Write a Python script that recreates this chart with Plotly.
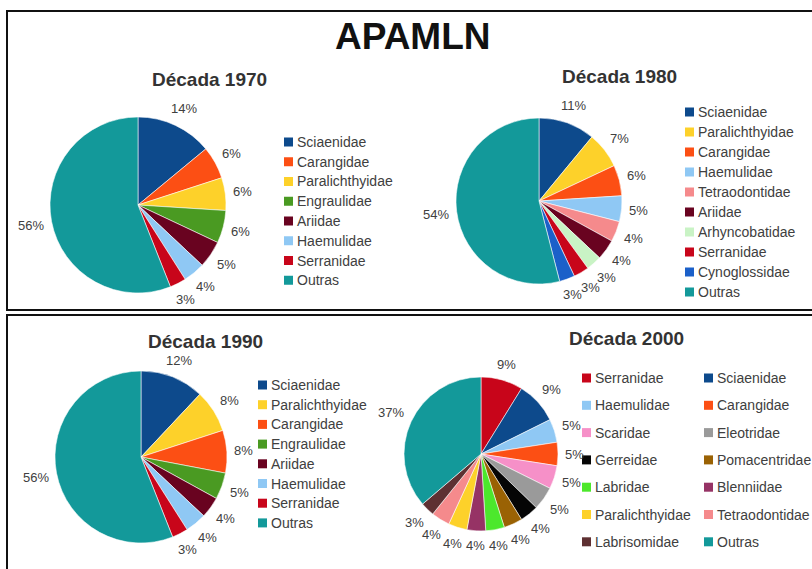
import math
import plotly.graph_objects as go

W, H = 812, 569

# ---------------- data ----------------
main_title = "APAMLN"
decade_titles = ["Década 1970", "Década 1980", "Década 1990", "Década 2000"]

labels_1970 = ["Sciaenidae", "Carangidae", "Paralichthyidae", "Engraulidae",
               "Ariidae", "Haemulidae", "Serranidae", "Outras"]
values_1970 = [14, 6, 6, 6, 5, 4, 3, 56]

labels_1980 = ["Sciaenidae", "Paralichthyidae", "Carangidae", "Haemulidae",
               "Tetraodontidae", "Ariidae", "Arhyncobatidae", "Serranidae",
               "Cynoglossidae", "Outras"]
values_1980 = [11, 7, 6, 5, 4, 4, 3, 3, 3, 54]

labels_1990 = ["Sciaenidae", "Paralichthyidae", "Carangidae", "Engraulidae",
               "Ariidae", "Haemulidae", "Serranidae", "Outras"]
values_1990 = [12, 8, 8, 5, 4, 4, 3, 56]

labels_2000 = ["Serranidae", "Sciaenidae", "Haemulidae", "Carangidae",
               "Scaridae", "Eleotridae", "Gerreidae", "Pomacentridae",
               "Labridae", "Blenniidae", "Paralichthyidae", "Tetraodontidae",
               "Labrisomidae", "Outras"]
values_2000 = [9, 9, 5, 5, 5, 5, 4, 4, 4, 4, 4, 4, 3, 37]

# ---------------- styles ----------------
COLORS = {
    "Sciaenidae": "#0d4a8c",
    "Carangidae": "#fc4f14",
    "Paralichthyidae": "#fdd12a",
    "Engraulidae": "#4a9a22",
    "Ariidae": "#690320",
    "Haemulidae": "#8fc8f4",
    "Serranidae": "#c8051a",
    "Outras": "#13999a",
    "Tetraodontidae": "#f58a8c",
    "Arhyncobatidae": "#c9f3c5",
    "Cynoglossidae": "#1b60c9",
    "Scaridae": "#f690c8",
    "Eleotridae": "#9a9a9a",
    "Gerreidae": "#050505",
    "Pomacentridae": "#9a6204",
    "Labridae": "#4ce82c",
    "Blenniidae": "#963365",
    "Labrisomidae": "#5e3032",
}

FONT = "Liberation Sans, Arial, sans-serif"
TXT = "#404040"
LABEL_SIZE = 13
LABEL_GAP = 7

# pie centre (px), radius (px)
pie_layout = [
    (138, 205, 88),
    (539, 201, 83),
    (141, 457, 86),
    (481, 454, 77),
]
title_pos = [(209, 80), (619, 76), (205, 341), (626, 338)]

legend_layout = [
    dict(cols=[297], y0=142, dy=19.75, per_col=8),
    dict(cols=[698], y0=112, dy=20.0, per_col=10),
    dict(cols=[271], y0=385, dy=19.7, per_col=8),
    dict(cols=[595, 717], y0=378, dy=27.3, per_col=7, rowmajor=True),
]

datasets = [
    (labels_1970, values_1970),
    (labels_1980, values_1980),
    (labels_1990, values_1990),
    (labels_2000, values_2000),
]


def px(x):
    return x / W


def py(y):
    return 1 - y / H


def text_w(s, size):
    # approximate Arial advance widths
    w = 0.0
    for ch in s:
        w += 0.889 if ch == "%" else 0.556
    return w * size


fig = go.Figure()
annotations = []
shapes = []

for i, (labels, values) in enumerate(datasets):
    cx, cy, r = pie_layout[i]
    fig.add_trace(go.Pie(
        labels=labels,
        values=values,
        sort=False,
        direction="clockwise",
        rotation=0,
        marker=dict(colors=[COLORS[l] for l in labels],
                    line=dict(width=0.7, color="rgba(255,255,255,0.8)")),
        textinfo="none",
        domain=dict(x=[px(cx - r), px(cx + r)], y=[py(cy + r), py(cy - r)]),
        showlegend=False,
        hoverinfo="label+value",
    ))

    # outside percentage labels (Excel-style, no leader lines)
    total = float(sum(values))
    cum = 0.0
    for v in values:
        mid = (cum + v / 2.0) / total * 2 * math.pi
        cum += v
        s = "%d%%" % v
        sw, sh = text_w(s, LABEL_SIZE), LABEL_SIZE + 1
        sn, cs = math.sin(mid), math.cos(mid)
        d = r + LABEL_GAP + abs(sn) * sw / 2 + abs(cs) * sh / 2
        lx, ly = cx + d * sn, cy - d * cs
        annotations.append(dict(
            text=s, x=px(lx), y=py(ly), xref="paper", yref="paper",
            xanchor="center", yanchor="middle", showarrow=False, borderpad=0,
            font=dict(size=LABEL_SIZE, color=TXT, family=FONT)))

    tx, ty = title_pos[i]
    annotations.append(dict(
        text="<b>%s</b>" % decade_titles[i], x=px(tx), y=py(ty),
        xref="paper", yref="paper", xanchor="center", yanchor="middle",
        showarrow=False, font=dict(size=19, color="#333333", family=FONT)))

    lg = legend_layout[i]
    ncols = len(lg["cols"])
    for k, lab in enumerate(labels):
        if lg.get("rowmajor"):
            col, row = k % ncols, k // ncols
        else:
            col, row = k // lg["per_col"], k % lg["per_col"]
        tx_ = lg["cols"][col]
        ty_ = lg["y0"] + row * lg["dy"]
        shapes.append(dict(
            type="rect", xref="paper", yref="paper",
            x0=px(tx_ - 13), x1=px(tx_ - 4), y0=py(ty_ + 4.5), y1=py(ty_ - 4.5),
            fillcolor=COLORS[lab], line=dict(width=0)))
        annotations.append(dict(
            text=lab, x=px(tx_ - 1), y=py(ty_), xref="paper", yref="paper",
            xanchor="left", yanchor="middle", showarrow=False, borderpad=0,
            font=dict(size=14, color=TXT, family=FONT)))

# main title
annotations.append(dict(
    text="<b>%s</b>" % main_title, x=px(413), y=py(37), xref="paper", yref="paper",
    xanchor="center", yanchor="middle", showarrow=False,
    font=dict(size=37, color="#111111", family=FONT)))

# panel frames
shapes.append(dict(type="rect", xref="paper", yref="paper",
                   x0=px(7), x1=px(W + 10), y0=py(310), y1=py(11),
                   line=dict(color="#111111", width=2), fillcolor="rgba(0,0,0,0)",
                   layer="below"))
shapes.append(dict(type="rect", xref="paper", yref="paper",
                   x0=px(7), x1=px(W + 10), y0=py(H + 10), y1=py(315),
                   line=dict(color="#111111", width=2), fillcolor="rgba(0,0,0,0)",
                   layer="below"))

fig.update_layout(
    width=W, height=H,
    margin=dict(l=0, r=0, t=0, b=0),
    paper_bgcolor="white", plot_bgcolor="white",
    annotations=annotations, shapes=shapes,
    font=dict(family=FONT, color=TXT),
)

fig.write_html(
    "out.html",
    config={"displayModeBar": False},
    post_script="document.body.style.margin='0';document.body.style.overflow='hidden';",
)
